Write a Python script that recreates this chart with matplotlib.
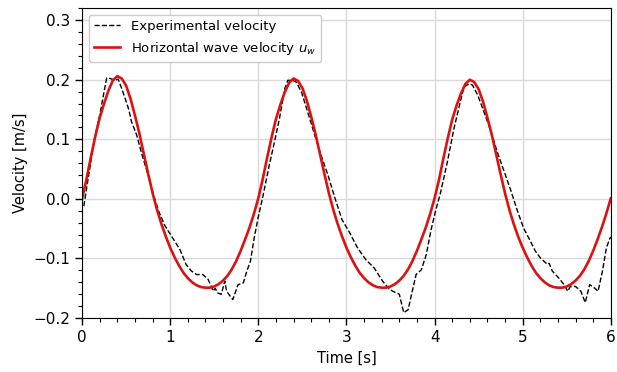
import numpy as np
import matplotlib
matplotlib.use('Agg')
import matplotlib.pyplot as plt
from matplotlib.ticker import MultipleLocator

# theoretical horizontal wave velocity, 0.05 s step from 0 to 6 s
t_wave = np.arange(121) * 0.05
u_wave = [
    0.000, 0.033, 0.070, 0.105, 0.136, 0.160, 0.182, 0.199, 0.206, 0.202,
    0.190, 0.168, 0.140, 0.110, 0.076, 0.042, 0.010, -0.018, -0.042, -0.063,
    -0.082, -0.098, -0.112, -0.124, -0.133, -0.140, -0.145, -0.148, -0.149, -0.149,
    -0.147, -0.143, -0.137, -0.129, -0.118, -0.104, -0.087, -0.068, -0.048, -0.025,
    0.001, 0.033, 0.069, 0.103, 0.134, 0.158, 0.179, 0.195, 0.202, 0.198,
    0.186, 0.165, 0.138, 0.108, 0.075, 0.042, 0.010, -0.018, -0.042, -0.063,
    -0.082, -0.098, -0.112, -0.124, -0.133, -0.140, -0.145, -0.148, -0.149, -0.149,
    -0.147, -0.143, -0.137, -0.129, -0.118, -0.104, -0.087, -0.068, -0.048, -0.025,
    0.001, 0.032, 0.068, 0.102, 0.133, 0.157, 0.177, 0.193, 0.200, 0.196,
    0.184, 0.163, 0.136, 0.107, 0.074, 0.041, 0.009, -0.019, -0.043, -0.064,
    -0.082, -0.098, -0.112, -0.124, -0.133, -0.140, -0.145, -0.148, -0.149, -0.149,
    -0.147, -0.143, -0.137, -0.129, -0.118, -0.104, -0.087, -0.068, -0.047, -0.024,
    0.001,
]

# measured velocity
t_exp = [
    0.02, 0.07, 0.14, 0.20, 0.25, 0.28, 0.32, 0.37, 0.41, 0.45,
    0.49, 0.53, 0.56, 0.62, 0.68, 0.75, 0.81, 0.87, 0.94, 1.03,
    1.11, 1.18, 1.24, 1.30, 1.37, 1.43, 1.49, 1.51, 1.54, 1.58,
    1.62, 1.64, 1.71, 1.77, 1.83, 1.87, 1.91, 1.95, 2.00, 2.05,
    2.125, 2.19, 2.24, 2.30, 2.335, 2.39, 2.43, 2.49, 2.56, 2.64,
    2.71, 2.79, 2.87, 2.95, 3.03, 3.125, 3.22, 3.315, 3.41, 3.49,
    3.54, 3.60, 3.65, 3.70, 3.73, 3.79, 3.85, 3.905, 3.96, 4.01,
    4.07, 4.145, 4.22, 4.30, 4.335, 4.39, 4.43, 4.49, 4.56, 4.64,
    4.71, 4.79, 4.87, 4.94, 5.01, 5.07, 5.145, 5.20, 5.28, 5.30,
    5.335, 5.41, 5.47, 5.51, 5.54, 5.60, 5.66, 5.71, 5.76, 5.81,
    5.855, 5.905, 5.95, 5.99, 6.00,
]
u_exp = [
    -0.012, 0.035, 0.100, 0.140, 0.180, 0.203, 0.202, 0.199, 0.201, 0.185,
    0.168, 0.150, 0.130, 0.107, 0.074, 0.040, 0.007, -0.021, -0.045, -0.066,
    -0.085, -0.110, -0.121, -0.127, -0.127, -0.135, -0.155, -0.150, -0.158, -0.160,
    -0.138, -0.155, -0.169, -0.144, -0.141, -0.121, -0.105, -0.068, -0.030, 0.003,
    0.057, 0.100, 0.135, 0.185, 0.199, 0.199, 0.196, 0.179, 0.146, 0.107,
    0.074, 0.040, 0.001, -0.035, -0.055, -0.082, -0.102, -0.116, -0.138, -0.152,
    -0.156, -0.160, -0.191, -0.186, -0.166, -0.127, -0.119, -0.094, -0.052, -0.021,
    0.012, 0.062, 0.118, 0.168, 0.188, 0.193, 0.191, 0.174, 0.146, 0.113,
    0.079, 0.046, 0.012, -0.020, -0.049, -0.066, -0.088, -0.099, -0.110, -0.108,
    -0.121, -0.133, -0.144, -0.155, -0.147, -0.147, -0.155, -0.174, -0.144, -0.149,
    -0.155, -0.121, -0.082, -0.066, -0.064,
]

fig = plt.figure(figsize=(6.17, 3.72), dpi=100)
ax = fig.add_axes([0.133, 0.145, 0.857, 0.833])

ax.plot(t_exp, u_exp, '--', color='black', lw=1.0, label='Experimental velocity')
ax.plot(t_wave, u_wave, '-', color='#dd1111', lw=1.9, label='Horizontal wave velocity $u_w$')

ax.set_xlim(0, 6)
ax.set_ylim(-0.2, 0.32)
ax.xaxis.set_major_locator(MultipleLocator(1))
ax.xaxis.set_minor_locator(MultipleLocator(0.2))
ax.yaxis.set_major_locator(MultipleLocator(0.1))
ax.yaxis.set_minor_locator(MultipleLocator(0.02))
ax.tick_params(which='major', length=5, width=1, labelsize=11)
ax.tick_params(which='minor', length=3, width=0.8)
ax.grid(True, which='major', color='#d9d9d9', lw=1)
ax.set_axisbelow(True)

ax.set_xlabel('Time [s]', fontsize=10.5)
ax.set_ylabel('Velocity [m/s]', fontsize=10.5)
ax.legend(loc='upper left', fontsize=9.5, framealpha=1, edgecolor='#cccccc')

plt.savefig('out.png', dpi=100)
